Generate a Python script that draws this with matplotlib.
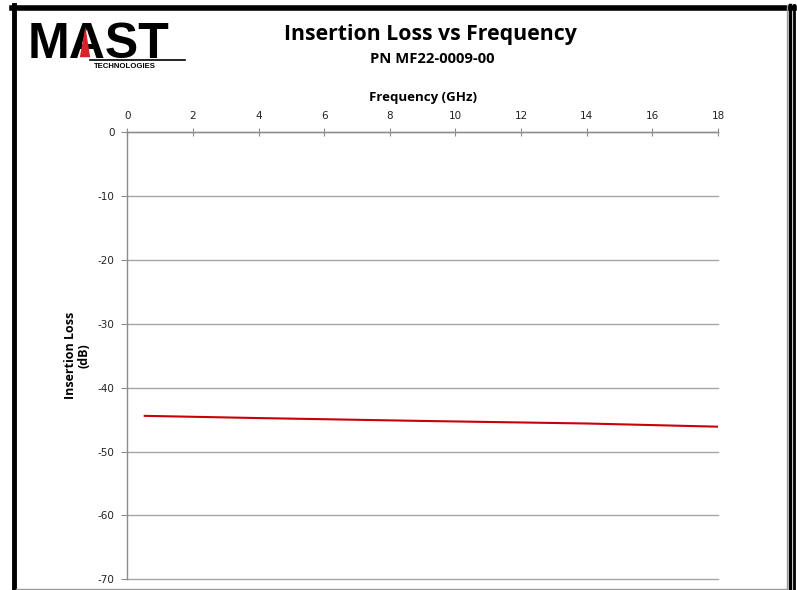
import matplotlib.pyplot as plt
from matplotlib.lines import Line2D
from matplotlib.patches import Polygon

# Insertion loss readings
freq_ghz = [0.5, 4, 9, 14, 18]
loss_db = [-44.4, -44.75, -45.2, -45.6, -46.1]

x_ticks = [0, 2, 4, 6, 8, 10, 12, 14, 16, 18]
y_ticks = [0, -10, -20, -30, -40, -50, -60, -70]

plt.rcParams['axes.unicode_minus'] = False

fig = plt.figure(figsize=(7.97, 5.9), dpi=100)
ax = fig.add_axes([0.1597, 0.0181, 0.7412, 0.7577])

ax.plot(freq_ghz, loss_db, color='#c8000a', linewidth=1.5, solid_capstyle='butt')

ax.set_xlim(0, 18)
ax.set_ylim(-70, 0)
ax.set_xticks(x_ticks)
ax.set_yticks(y_ticks)
ax.xaxis.tick_top()
ax.xaxis.set_label_position('top')

gray = '#8c8c8c'
for s in ['right', 'bottom']:
    ax.spines[s].set_visible(False)
for s in ['top', 'left']:
    ax.spines[s].set_color(gray)
    ax.spines[s].set_linewidth(1.0)

ax.tick_params(axis='x', direction='inout', length=6, width=0.8, color=gray,
               labelsize=7.5, pad=5, labelcolor='#222222')
ax.tick_params(axis='y', direction='out', length=4, width=0.8, color=gray,
               labelsize=7.5, pad=5, labelcolor='#222222')
ax.yaxis.grid(True, color='#a6a6a6', linewidth=1.0)
for gl in ax.get_ygridlines():
    gl.set_clip_on(False)
ax.set_axisbelow(True)

ax.set_xlabel('Frequency (GHz)', fontsize=9.5, fontweight='bold', family='Open Sans', labelpad=7)
ax.set_ylabel('Insertion Loss\n(dB)', fontsize=9, fontweight='bold', family='Open Sans',
              labelpad=5, linespacing=1.1)

# titles
fig.text(0.54, 0.942, 'Insertion Loss vs Frequency', ha='center', va='center',
         fontsize=15.3, fontweight='bold', family='Open Sans')
fig.text(0.542, 0.900, 'PN MF22-0009-00', ha='center', va='center',
         fontsize=10.6, fontweight='bold', family='Open Sans')

# logo
logo = fig.text(0.035, 0.902, 'MAST', ha='left', va='baseline', fontsize=36,
                fontweight='bold', family='Liberation Sans', color='black')
fig.canvas.draw()
bb = logo.get_window_extent().transformed(fig.transFigure.inverted())
# red stripe inside the A
a_mid = bb.x0 + bb.width * 0.40
fig.patches.append(Polygon([[a_mid - 0.006, 0.903], [a_mid + 0.007, 0.903], [a_mid + 0.001, 0.955]],
                           closed=True, transform=fig.transFigure,
                           facecolor='#d8232a', edgecolor='none', zorder=5))
fig.lines.append(Line2D([0.113, 0.232], [0.899, 0.899], transform=fig.transFigure,
                        color='black', linewidth=1.2))
fig.text(0.118, 0.893, 'TECHNOLOGIES', ha='left', va='top', fontsize=5.6,
         fontweight='bold', family='Liberation Sans', color='black')

# page frame
fig.lines.append(Line2D([0.0175, 0.0175], [0.0, 0.991], transform=fig.transFigure,
                        color='black', linewidth=3.5))
fig.lines.append(Line2D([0.015, 0.996], [0.987, 0.987], transform=fig.transFigure,
                        color='black', linewidth=4))
fig.lines.append(Line2D([0.9872, 0.9872], [0.0, 0.991], transform=fig.transFigure,
                        color='#9a9a9a', linewidth=1.0))
fig.lines.append(Line2D([0.991, 0.991], [0.0, 0.991], transform=fig.transFigure,
                        color='black', linewidth=2.5))
fig.lines.append(Line2D([0.996, 0.996], [0.0, 0.991], transform=fig.transFigure,
                        color='black', linewidth=2.0))
fig.lines.append(Line2D([0.02, 0.9872], [0.0017, 0.0017], transform=fig.transFigure,
                        color='#9a9a9a', linewidth=1.0))

fig.savefig('out.png', dpi=100)
